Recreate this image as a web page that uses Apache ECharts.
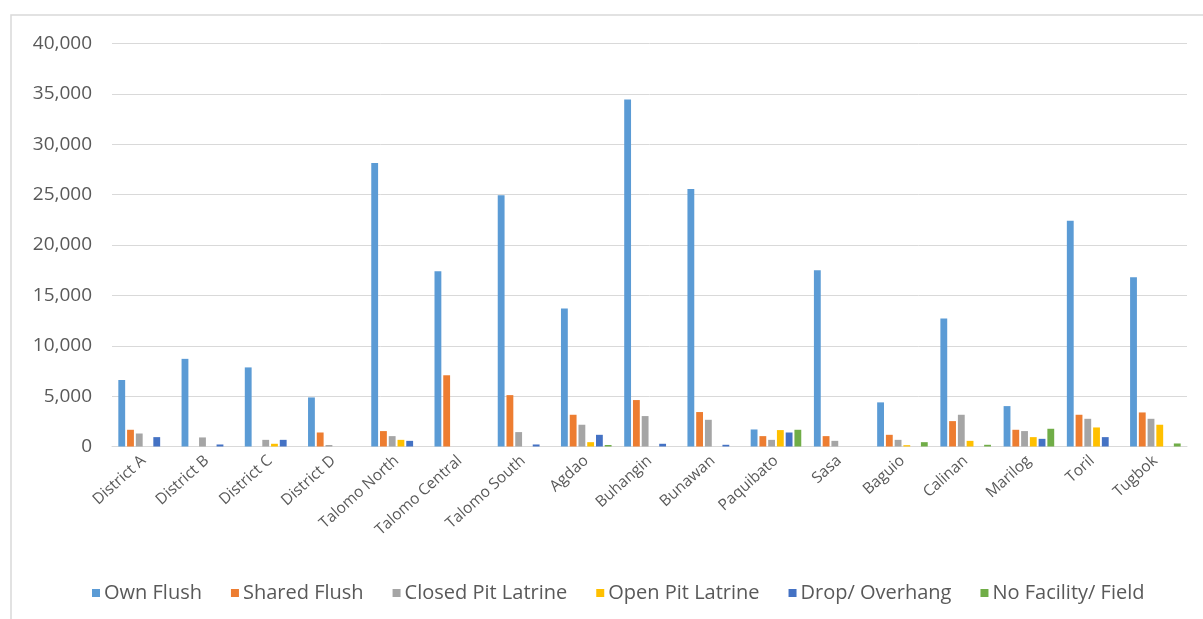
<!DOCTYPE html>
<html>
<head>
<meta charset="utf-8">
<script src="https://cdn.jsdelivr.net/npm/echarts@6/dist/echarts.min.js"></script>
<style>
html,body{margin:0;padding:0;background:#fff;}
#chart{width:1203px;height:619px;}
</style>
</head>
<body>
<div id="chart"></div>
<script>
const categories = ["District A","District B","District C","District D","Talomo North","Talomo Central","Talomo South","Agdao","Buhangin","Bunawan","Paquibato","Sasa","Baguio","Calinan","Marilog","Toril","Tugbok"];
const ownFlush =      [6600, 8700, 7850, 4870, 28150, 17400, 24950, 13700, 34450, 25550, 1690, 17500, 4380, 12700, 4010, 22400, 16800];
const sharedFlush =   [1660, 0, 0, 1390, 1530, 7070, 5100, 3150, 4610, 3420, 1030, 1030, 1160, 2520, 1660, 3150, 3380];
const closedPit =     [1290, 900, 660, 150, 1030, 0, 1430, 2160, 3020, 2650, 660, 560, 660, 3150, 1530, 2750, 2750];
const openPit =       [0, 0, 270, 0, 660, 0, 0, 430, 0, 0, 1630, 0, 130, 560, 930, 1890, 2160];
const dropOverhang =  [930, 200, 660, 0, 560, 0, 200, 1160, 270, 170, 1390, 0, 0, 0, 760, 930, 0];
const noFacility =    [0, 0, 0, 0, 0, 0, 0, 150, 0, 0, 1660, 0, 430, 170, 1760, 0, 300];
const seriesNames = ["Own Flush","Shared Flush","Closed Pit Latrine","Open Pit Latrine","Drop/ Overhang","No Facility/ Field"];
const yTicks = [0, 5000, 10000, 15000, 20000, 25000, 30000, 35000, 40000];

const seriesData = [ownFlush, sharedFlush, closedPit, openPit, dropOverhang, noFacility];
const colors = ["#5B9BD5","#ED7D31","#A5A5A5","#FFC000","#4472C4","#70AD47"];
const FONT = "Open Sans";

const chart = echarts.init(document.getElementById('chart'), null, {renderer:'canvas'});
chart.setOption({
  animation:false,
  backgroundColor:'#fff',
  color: colors,
  textStyle:{fontFamily:FONT},
  graphic:[{
    type:'rect',
    shape:{x:11,y:15,width:1230,height:640},
    style:{fill:null,stroke:'#d9d9d9',lineWidth:1.5},
    silent:true
  }],
  grid:{left:112,right:16,top:43.5,bottom:172.5,containLabel:false},
  legend:{
    data:seriesNames,
    top:578,
    left:87,
    icon:'rect',
    itemWidth:8,
    itemHeight:8,
    itemGap:29,
    textStyle:{fontFamily:FONT,fontSize:20,color:'#595959',padding:[0,0,0,-1]}
  },
  xAxis:{
    type:'category',
    data:categories,
    axisLine:{lineStyle:{color:'#d9d9d9',width:1}},
    axisTick:{show:false},
    axisLabel:{rotate:42,fontFamily:FONT,fontSize:15.5,color:'#595959',margin:12,interval:0}
  },
  yAxis:{
    type:'value',
    min:yTicks[0],
    max:yTicks[yTicks.length-1],
    interval:yTicks[1]-yTicks[0],
    axisLine:{show:false},
    axisTick:{show:false},
    splitLine:{lineStyle:{color:'#d9d9d9',width:1}},
    axisLabel:{fontFamily:FONT,fontSize:19,color:'#595959',margin:20,
      formatter:v=>v.toLocaleString('en-US')}
  },
  series: seriesNames.map((n,i)=>({
    name:n,
    type:'bar',
    data:seriesData[i],
    barGap:'28%',
    barCategoryGap:'20%'
  }))
});
</script>
</body>
</html>
